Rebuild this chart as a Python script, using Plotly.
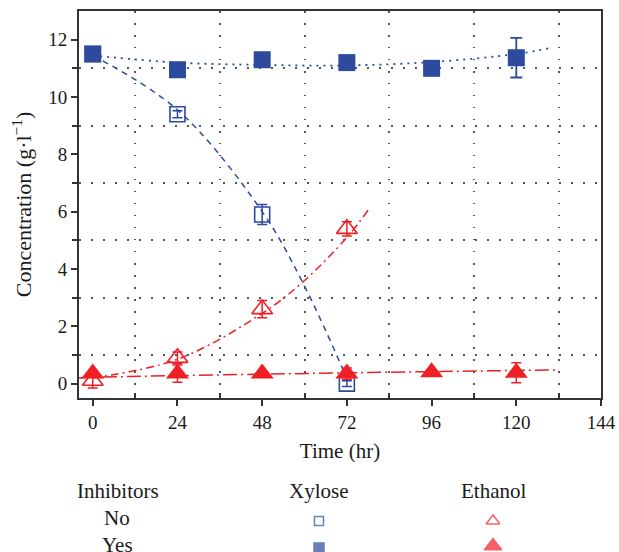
import plotly.graph_objects as go

# ---- data ----
time_no = [0, 24, 48, 72]
xylose_no = [11.5, 9.4, 5.9, 0.0]
xylose_no_err = [0.05, 0.12, 0.35, 0.1]
ethanol_no = [0.1, 0.9, 2.6, 5.4]
ethanol_no_err = [0.25, 0.2, 0.3, 0.25]

time_yes = [0, 24, 48, 72, 96, 120]
xylose_yes = [11.5, 10.95, 11.3, 11.2, 11.0, 11.37]
xylose_yes_err = [0.1, 0.1, 0.1, 0.1, 0.1, 0.69]
ethanol_yes = [0.35, 0.35, 0.35, 0.35, 0.4, 0.38]
ethanol_yes_err = [0.05, 0.3, 0.05, 0.2, 0.05, 0.35]

# fitted trend curves
fit_xno_t = [0, 24, 48, 60, 73]
fit_xno_y = [11.45, 9.55, 6.0, 3.4, -0.1]
fit_xyes_t = [0, 24, 48, 72, 96, 120, 130]
fit_xyes_y = [11.45, 11.2, 11.12, 11.1, 11.22, 11.5, 11.72]
fit_eno_t = [0, 24, 48, 60, 72, 78]
fit_eno_y = [0.2, 0.85, 2.45, 3.6, 5.1, 6.05]
fit_eyes_t = [-3.9, 0, 48, 96, 132]
fit_eyes_y = [0.2, 0.22, 0.33, 0.42, 0.48]

x_ticks = [0, 24, 48, 72, 96, 120, 144]
y_ticks = [0, 2, 4, 6, 8, 10, 12]

BLUE = "#2c4a9e"
RED = "#ee1f25"
FONT = "Liberation Serif"
TXT = "#1a1a1a"

fig = go.Figure()

# fit lines
fig.add_trace(go.Scatter(x=fit_xno_t, y=fit_xno_y, mode="lines", line_shape="spline",
                         line=dict(color=BLUE, width=1.5, dash="6px,5px"), showlegend=False))
fig.add_trace(go.Scatter(x=fit_xyes_t, y=fit_xyes_y, mode="lines", line_shape="spline",
                         line=dict(color=BLUE, width=1.8, dash="2px,5px"), showlegend=False))
fig.add_trace(go.Scatter(x=fit_eno_t, y=fit_eno_y, mode="lines", line_shape="spline",
                         line=dict(color=RED, width=1.5, dash="8px,4px,2px,4px"), showlegend=False))
fig.add_trace(go.Scatter(x=fit_eyes_t, y=fit_eyes_y, mode="lines", line_shape="spline",
                         line=dict(color=RED, width=1.5, dash="14px,4px,2px,4px"), showlegend=False))

# markers
fig.add_trace(go.Scatter(x=time_no, y=xylose_no, mode="markers",
                         marker=dict(symbol="square-open", size=15, color=BLUE, line=dict(width=1.6, color=BLUE)),
                         error_y=dict(type="data", array=xylose_no_err, color=BLUE, thickness=1.5, width=5),
                         showlegend=False))
fig.add_trace(go.Scatter(x=time_yes, y=xylose_yes, mode="markers",
                         marker=dict(symbol="square", size=17, color=BLUE, line=dict(width=0)),
                         error_y=dict(type="data", array=xylose_yes_err, color=BLUE, thickness=1.8, width=6),
                         showlegend=False))
fig.add_trace(go.Scatter(x=time_no, y=ethanol_no, mode="markers",
                         marker=dict(symbol="triangle-up-open", size=18, color=RED, line=dict(width=1.6, color=RED)),
                         error_y=dict(type="data", array=ethanol_no_err, color=RED, thickness=1.5, width=5),
                         showlegend=False))
fig.add_trace(go.Scatter(x=time_yes, y=ethanol_yes, mode="markers",
                         marker=dict(symbol="triangle-up", size=20, color=RED, line=dict(width=0)),
                         error_y=dict(type="data", array=ethanol_yes_err, color=RED, thickness=1.5, width=5),
                         showlegend=False))

# custom legend key (second, hidden axis pair in pixel-like units)
leg_x = [319, 493, 319, 493]
leg_y = [521, 521, 548, 546]
leg_sym = ["square-open", "triangle-up-open", "square", "triangle-up"]
leg_col = [BLUE, RED, BLUE, RED]
leg_size = [9, 12, 10, 15]
fig.add_trace(go.Scatter(x=leg_x, y=leg_y, mode="markers", xaxis="x2", yaxis="y2",
                         marker=dict(symbol=leg_sym, color=leg_col, size=leg_size,
                                     line=dict(width=1.5, color=leg_col)),
                         showlegend=False, hoverinfo="skip"))

axis_common = dict(showline=True, linecolor="#333333", linewidth=2, mirror=True,
                   ticks="outside", ticklen=6, tickwidth=1.5, tickcolor="#333333",
                   showgrid=False, zeroline=False,
                   tickfont=dict(family=FONT, size=19, color=TXT))

fig.update_layout(
    width=619, height=552,
    margin=dict(l=79, r=18, t=11, b=0),
    paper_bgcolor="white", plot_bgcolor="white",
    font=dict(family=FONT, size=19, color=TXT),
    xaxis=dict(axis_common, range=[-3.9, 144], tickvals=x_ticks, domain=[0, 1],
               anchor="y",
               minor=dict(tickvals=[12, 36, 60, 84, 108, 132], ticks="inside", ticklen=5,
                          tickcolor="#333333", showgrid=True, gridcolor="#555555",
                          griddash="1.5px,10.5px", gridwidth=1.5),
               title=dict(text="Time (hr)", font=dict(family=FONT, size=21, color=TXT), standoff=12)),
    yaxis=dict(axis_common, range=[-0.5, 13], tickvals=y_ticks, domain=[0.2847, 1],
               minor=dict(tickvals=[1, 3, 5, 7, 9, 11], ticks="outside", ticklen=5,
                          tickcolor="#333333", showgrid=True, gridcolor="#555555",
                          griddash="1.5px,10.5px", gridwidth=1.5),
               title=dict(text="Concentration (g·l<sup>−1</sup>)", font=dict(family=FONT, size=22, color=TXT),
                          standoff=10)),
    xaxis2=dict(domain=[0, 1], range=[79, 601], visible=False, anchor="y2"),
    yaxis2=dict(domain=[0, 0.2847], range=[552, 398], visible=False, anchor="x2"),
)

# legend text
leg_text = ["Inhibitors", "Xylose", "Ethanol", "No", "Yes"]
leg_tx = [118, 319, 493, 117, 117]
leg_ty = [491, 491, 491, 518, 545]
for t, x, y in zip(leg_text, leg_tx, leg_ty):
    fig.add_annotation(text=t, x=x, y=y, xref="x2", yref="y2", showarrow=False,
                       xanchor="center", yanchor="middle",
                       font=dict(family=FONT, size=21, color=TXT))

fig.write_html("out.html")
